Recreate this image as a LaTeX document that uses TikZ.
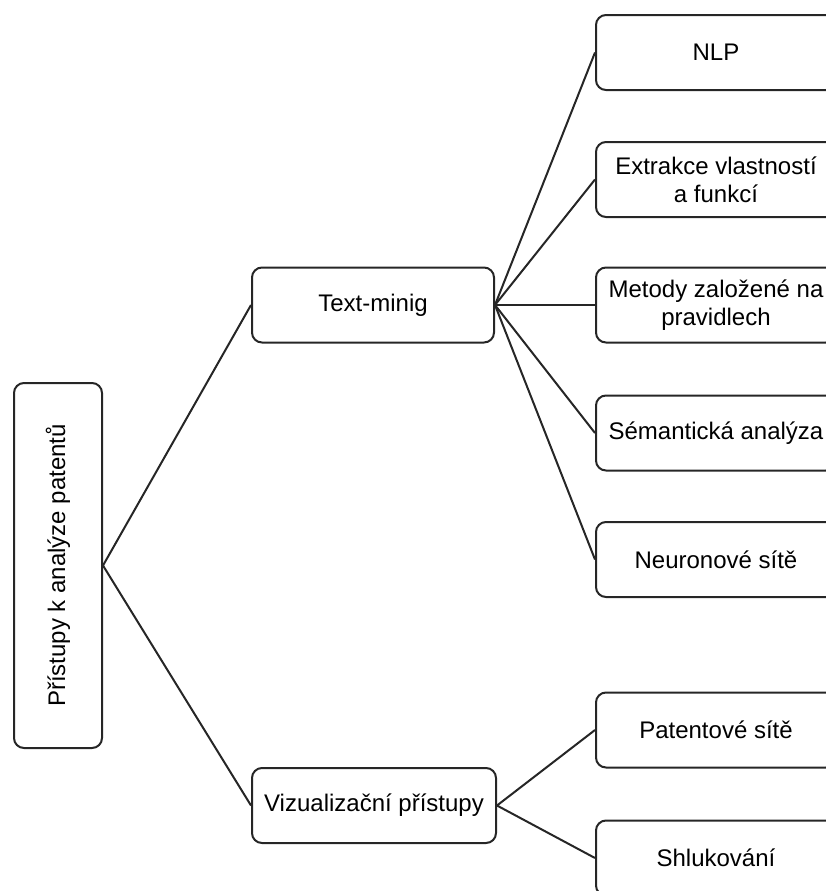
\documentclass[tikz,border=0pt]{standalone}
\usepackage{fontspec}
\setmainfont{Liberation Sans}
\usepackage{graphicx}
\tikzstyle{box}=[draw=black!85,rounded corners=5pt,line width=1pt,minimum width=120pt,minimum height=37.5pt,align=center,inner sep=2pt]
\tikzstyle{line}=[black!85,line width=1pt]

\begin{document}
\begin{tikzpicture}[x=.5pt, y=-.5pt,font=\fontsize{12}{14}\selectfont]

	\clip (0,0) rectangle (826,891);
	%root
	\node[box,minimum width=44pt,minimum height=182.5pt] (root) at (58,565.5) {\rotatebox{90}{Přístupy k analýze patentů}};
	\node[box,minimum width=121pt] (tm) at (373,305) {Text-minig};
	\node[box,minimum width=122pt] (viz) at (374,805.5) {Vizualizační přístupy};

	%text-mining leaves
	\node[box] (nlp) at (716,52.5) {NLP};
	\node[box] (ext) at (716,179.5) {Extrakce vlastností\\a funkcí};
	\node[box] (met) at (716,305) {Metody založené na\\pravidlech};
	\node[box] (sem) at (716,433) {Sémantická analýza};
	\node[box] (neu) at (716,559.5) {Neuronové sítě};

	%visualisation leaves
	\node[box] (pat) at (716,730) {Patentové sítě};
	\node[box] (shl) at (716,858) {Shlukování};

	%connectors
	\draw[line] (root.east) -- (tm.west);
	\draw[line] (root.east) -- (viz.west);
	\foreach \n in {nlp,ext,met,sem,neu}
		\draw[line] (tm.east) -- (\n.west);
	\foreach \n in {pat,shl}
		\draw[line] (viz.east) -- (\n.west);
\end{tikzpicture}
\end{document}
